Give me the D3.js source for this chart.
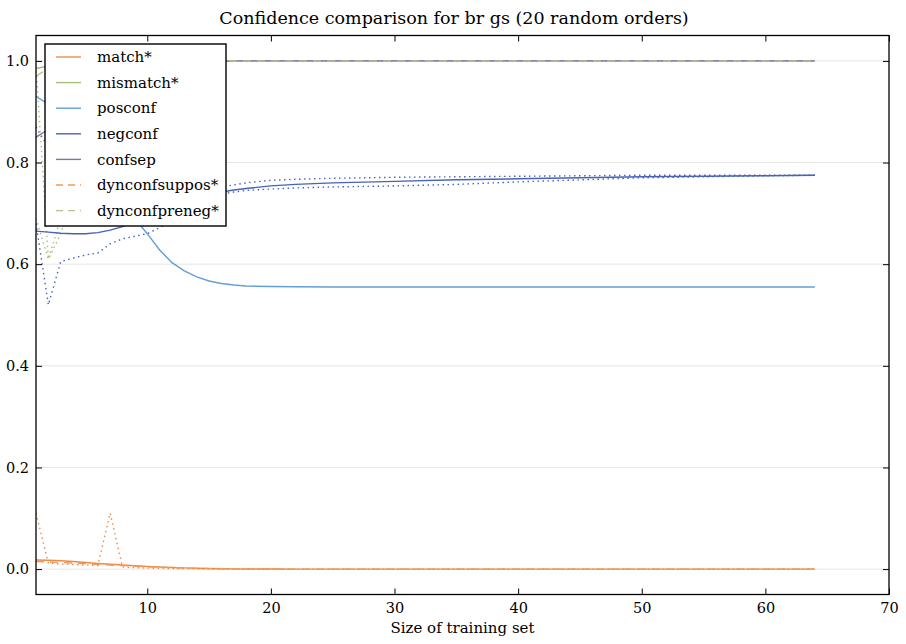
<!DOCTYPE html>
<html>
<head>
<meta charset="utf-8">
<script src="https://cdn.jsdelivr.net/npm/d3@7"></script>
<style>
  html, body { margin: 0; padding: 0; background: #fff; }
  svg text { font-family: "DejaVu Serif", "Liberation Serif", serif; fill: #000; }
</style>
</head>
<body>
<svg id="chart" width="906" height="644"></svg>
<script>
// training set sizes where values were read
const sizes = [1, 2, 3, 4, 5, 6, 7, 8, 9, 10, 11, 12, 13, 14, 15, 16, 17, 18, 20, 22, 25, 30, 35, 40, 45, 50, 55, 60, 64];

const matchVals = [0.018, 0.0175, 0.0165, 0.015, 0.013, 0.011, 0.0095, 0.008, 0.0065, 0.005, 0.004, 0.003, 0.0023, 0.0017, 0.0012, 0.0008, 0.0005, 0.0003, 0.0001, 0, 0, 0, 0, 0, 0, 0, 0, 0, 0];
const mismatchVals = [0.985, 0.99, 0.994, 0.997, 0.999, 1, 1, 1, 1, 1, 1, 1, 1, 1, 1, 1, 1, 1, 1, 1, 1, 1, 1, 1, 1, 1, 1, 1, 1];
const posconfVals = [0.93, 0.915, 0.89, 0.86, 0.82, 0.78, 0.745, 0.715, 0.69, 0.66, 0.628, 0.603, 0.587, 0.575, 0.567, 0.562, 0.559, 0.557, 0.556, 0.5555, 0.555, 0.555, 0.555, 0.555, 0.555, 0.555, 0.555, 0.555, 0.555];
const negconfVals = [0.665, 0.663, 0.661, 0.66, 0.66, 0.662, 0.667, 0.674, 0.684, 0.695, 0.706, 0.716, 0.725, 0.732, 0.738, 0.742, 0.746, 0.749, 0.754, 0.757, 0.76, 0.763, 0.766, 0.768, 0.77, 0.772, 0.773, 0.774, 0.775];
const confsepVals = [0.85, 0.865, 0.88, 0.895, 0.91, 0.925, 0.94, 0.953, 0.965, 0.975, 0.983, 0.989, 0.993, 0.996, 0.998, 0.999, 1, 1, 1, 1, 1, 1, 1, 1, 1, 1, 1, 1, 1];
const suppos = [0.015, 0.014, 0.013, 0.012, 0.0105, 0.009, 0.008, 0.0068, 0.0056, 0.0045, 0.0036, 0.0028, 0.0021, 0.0015, 0.001, 0.0007, 0.0004, 0.0002, 0.0001, 0, 0, 0, 0, 0, 0, 0, 0, 0, 0];
const preneg = [0.97, 0.985, 0.993, 0.997, 0.999, 1, 1, 1, 1, 1, 1, 1, 1, 1, 1, 1, 1, 1, 1, 1, 1, 1, 1, 1, 1, 1, 1, 1, 1];

// dotted runs (not in legend)
const matchDot = [0.11, 0.012, 0.01, 0.009, 0.008, 0.007, 0.11, 0.004, 0.003, 0.002, 0.0015, 0.001, 0.0006, 0.0003, 0.0001, 0, 0, 0, 0, 0, 0, 0, 0, 0, 0, 0, 0, 0, 0];
const negLowDot = [0.68, 0.52, 0.605, 0.612, 0.618, 0.622, 0.64, 0.65, 0.655, 0.66, 0.672, 0.685, 0.7, 0.715, 0.728, 0.738, 0.742, 0.745, 0.748, 0.75, 0.752, 0.754, 0.757, 0.762, 0.766, 0.77, 0.772, 0.774, 0.775];
const negHighDot = [0.87, 0.83, 0.8, 0.78, 0.765, 0.755, 0.75, 0.745, 0.742, 0.74, 0.74, 0.741, 0.743, 0.746, 0.749, 0.752, 0.756, 0.76, 0.765, 0.767, 0.769, 0.771, 0.772, 0.773, 0.774, 0.775, 0.775, 0.775, 0.775];
const mismatchDotA = [0.99, 0.61, 0.69, 0.78, 0.86, 0.92, 0.96, 0.985, 0.995, 1, 1, 1, 1, 1, 1, 1, 1, 1, 1, 1, 1, 1, 1, 1, 1, 1, 1, 1, 1];
const mismatchDotB = [0.69, 0.61, 0.66, 0.74, 0.82, 0.89, 0.94, 0.97, 0.99, 1, 1, 1, 1, 1, 1, 1, 1, 1, 1, 1, 1, 1, 1, 1, 1, 1, 1, 1, 1];

const xTicks = [10, 20, 30, 40, 50, 60, 70];
const yTicks = [0.0, 0.2, 0.4, 0.6, 0.8, 1.0];

const series = [
    { name: "match*", vals: matchVals, color: "#ee8a47", dash: null, legend: true },
    { name: "mismatch*", vals: mismatchVals, color: "#a8bd80", dash: null, legend: true },
    { name: "posconf", vals: posconfVals, color: "#629fd4", dash: null, legend: true },
    { name: "negconf", vals: negconfVals, color: "#4763b4", dash: null, legend: true },
    { name: "confsep", vals: confsepVals, color: "#7f72ae", dash: null, legend: true },
    { name: "dynconfsuppos*", vals: suppos, color: "#f39a52", dash: "8,6", legend: true },
    { name: "dynconfpreneg*", vals: preneg, color: "#b1c78c", dash: "8,6", legend: true },
    { name: "", vals: matchDot, color: "#ee8a47", dash: "1.5,3.5", legend: false },
    { name: "", vals: negLowDot, color: "#4763c4", dash: "1.5,3.5", legend: false },
    { name: "", vals: negHighDot, color: "#4f63c0", dash: "1.5,3.5", legend: false },
    { name: "", vals: mismatchDotA, color: "#a8bd80", dash: "1.5,3.5", legend: false },
    { name: "", vals: mismatchDotB, color: "#a8bd80", dash: "1.5,3.5", legend: false }
];

const mLeft = 36, mRight = 889, mTop = 35.5, mBottom = 594.5;
const serif = "'DejaVu Serif', 'Liberation Serif', serif";

const svg = d3.select("#chart");
const x = d3.scaleLinear().domain([1, 70]).range([mLeft, mRight]);
const y = d3.scaleLinear().domain([-0.05, 1.05]).range([mBottom, mTop]);

// horizontal grid
svg.append("g").selectAll("line")
    .data(yTicks)
    .enter().append("line")
    .attr("x1", mLeft).attr("x2", mRight)
    .attr("y1", d => y(d)).attr("y2", d => y(d))
    .attr("stroke", "#e6e6e6")
    .attr("stroke-width", 1);

svg.append("clipPath").attr("id", "clip")
    .append("rect")
    .attr("x", mLeft).attr("y", mTop)
    .attr("width", mRight - mLeft).attr("height", mBottom - mTop);

const line = d3.line()
    .x((d, i) => x(sizes[i]))
    .y(d => y(d));

// dotted ones first, then solid/dashed on top
const drawOrder = series.filter(s => !s.legend).concat(series.filter(s => s.legend));
svg.append("g").attr("clip-path", "url(#clip)")
    .selectAll("path")
    .data(drawOrder)
    .enter().append("path")
    .attr("d", d => line(d.vals))
    .attr("fill", "none")
    .attr("stroke", d => d.color)
    .attr("stroke-width", 1.4)
    .attr("stroke-dasharray", d => d.dash);

// axes, classic inward ticks on all sides
const tickLen = 6;
const xAxisB = d3.axisBottom(x).tickValues(xTicks).tickSize(-tickLen).tickPadding(8).tickFormat(d3.format("d"));
const xAxisT = d3.axisTop(x).tickValues(xTicks).tickSize(-tickLen).tickFormat("");
const yAxisL = d3.axisLeft(y).tickValues(yTicks).tickSize(-tickLen).tickPadding(7).tickFormat(d3.format(".1f"));
const yAxisR = d3.axisRight(y).tickValues(yTicks).tickSize(-tickLen).tickFormat("");

function styleAxis(g) {
    g.select(".domain").remove();
    g.selectAll("line").attr("stroke", "#000").attr("stroke-width", 1);
    g.selectAll("text")
        .attr("font-family", serif)
        .attr("font-size", 14.5);
}

svg.append("g").attr("transform", `translate(0,${mBottom})`).call(xAxisB).call(styleAxis);
svg.append("g").attr("transform", `translate(0,${mTop})`).call(xAxisT).call(styleAxis);
svg.append("g").attr("transform", `translate(${mLeft},0)`).call(yAxisL).call(styleAxis);
svg.append("g").attr("transform", `translate(${mRight},0)`).call(yAxisR).call(styleAxis);

// frame
svg.append("rect")
    .attr("x", mLeft).attr("y", mTop)
    .attr("width", mRight - mLeft).attr("height", mBottom - mTop)
    .attr("fill", "none")
    .attr("stroke", "#000")
    .attr("stroke-width", 1.3);

// title and x label
svg.append("text")
    .attr("x", 454).attr("y", 24)
    .attr("text-anchor", "middle")
    .attr("font-family", serif)
    .attr("font-size", 17.5)
    .text("Confidence comparison for br gs (20 random orders)");

svg.append("text")
    .attr("x", (mLeft + mRight) / 2).attr("y", 633)
    .attr("text-anchor", "middle")
    .attr("font-family", serif)
    .attr("font-size", 15)
    .text("Size of training set");

// legend
const legendItems = series.filter(s => s.legend);
const lg = svg.append("g").attr("transform", "translate(45,44)");
lg.append("rect")
    .attr("width", 181).attr("height", 182)
    .attr("fill", "#fff")
    .attr("stroke", "#000")
    .attr("stroke-width", 1.4);

const rows = lg.selectAll(".row")
    .data(legendItems)
    .enter().append("g")
    .attr("class", "row")
    .attr("transform", (d, i) => `translate(0,${13 + i * 25.6})`);

rows.append("line")
    .attr("x1", 11).attr("x2", 36)
    .attr("y1", 0).attr("y2", 0)
    .attr("stroke", d => d.color)
    .attr("stroke-width", 1.4)
    .attr("stroke-dasharray", d => d.dash ? "7,5" : null);

rows.append("text")
    .attr("x", 52).attr("y", 0)
    .attr("dy", "0.35em")
    .attr("font-family", serif)
    .attr("font-size", 15)
    .text(d => d.name);
</script>
</body>
</html>
